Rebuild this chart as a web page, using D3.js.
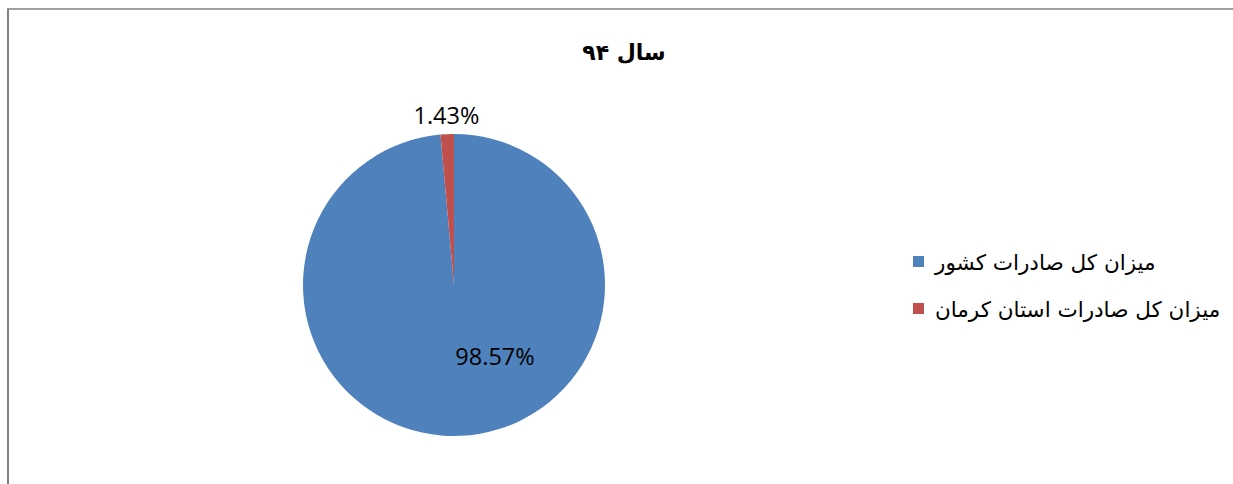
<!DOCTYPE html>
<html>
<head>
<meta charset="utf-8">
<script src="https://cdn.jsdelivr.net/npm/d3@7"></script>
<style>
  body { margin: 0; background: #fff; }
</style>
</head>
<body>
<div id="chart"></div>
<script>
	// chart data
	var categories = ["میزان کل صادرات کشور", "میزان کل صادرات استان کرمان"];
	var values = [98.57, 1.43];
	var labels = ["98.57%", "1.43%"];
	var colors = ["#4F81BD", "#C0504D"];
	var title = "سال ۹۴";

	var width = 1233;
	var height = 484;

	var svg = d3.select("#chart")
		.append("svg")
		.attr("width", width)
		.attr("height", height);

	// frame (left and top edges only visible)
	svg.append("line")
		.attr("x1", 8).attr("y1", 9).attr("x2", 8).attr("y2", height)
		.style("stroke", "#808080").style("stroke-width", 2);
	svg.append("line")
		.attr("x1", 7).attr("y1", 9).attr("x2", 1233).attr("y2", 9)
		.style("stroke", "#808080").style("stroke-width", 1.5);

	// title
	svg.append("text")
		.attr("x", 624)
		.attr("y", 60)
		.attr("text-anchor", "middle")
		.style("font-family", "'DejaVu Sans', Arial, sans-serif")
		.style("font-weight", "bold")
		.style("font-size", "22px")
		.text(title);

	// pie
	var cx = 454, cy = 285, r = 151;
	var pie = d3.pie().sort(null).value(function(d) { return d; });
	var arc = d3.arc().innerRadius(0).outerRadius(r);
	var arcs = pie(values);

	var g = svg.append("g").attr("transform", "translate(" + cx + "," + cy + ")");

	g.selectAll("path")
		.data(arcs)
		.enter()
		.append("path")
		.attr("d", arc)
		.style("fill", function(d, i) { return colors[i]; });

	// data labels
	var labelPos = [
		d3.arc().innerRadius(r * 0.5).outerRadius(r * 0.5),
		d3.arc().innerRadius(r * 1.12).outerRadius(r * 1.12)
	];
	g.selectAll("text.lbl")
		.data(arcs)
		.enter()
		.append("text")
		.attr("class", "lbl")
		.attr("transform", function(d, i) {
			var c = labelPos[i].centroid(d);
			if (i == 0) { c = [41, 72]; }
			return "translate(" + c + ")";
		})
		.attr("text-anchor", "middle")
		.attr("dy", "0.35em")
		.style("font-family", "'Open Sans', 'Noto Sans', sans-serif")
		.style("font-size", "23.5px")
		.style("fill", "#000")
		.text(function(d, i) { return labels[i]; });

	// legend
	var legend = svg.append("g").attr("transform", "translate(913,256)");
	var item = legend.selectAll("g")
		.data(categories)
		.enter()
		.append("g")
		.attr("transform", function(d, i) { return "translate(0," + (i * 47) + ")"; });

	item.append("rect")
		.attr("width", 11)
		.attr("height", 11)
		.style("fill", function(d, i) { return colors[i]; });

	item.append("text")
		.attr("x", 22)
		.attr("y", 6)
		.attr("dy", "0.35em")
		.attr("text-anchor", "start")
		.style("direction", "ltr")
		.style("font-family", "'DejaVu Sans', Arial, sans-serif")
		.style("font-size", "21.5px")
		.text(function(d) { return d; });
</script>
</body>
</html>
